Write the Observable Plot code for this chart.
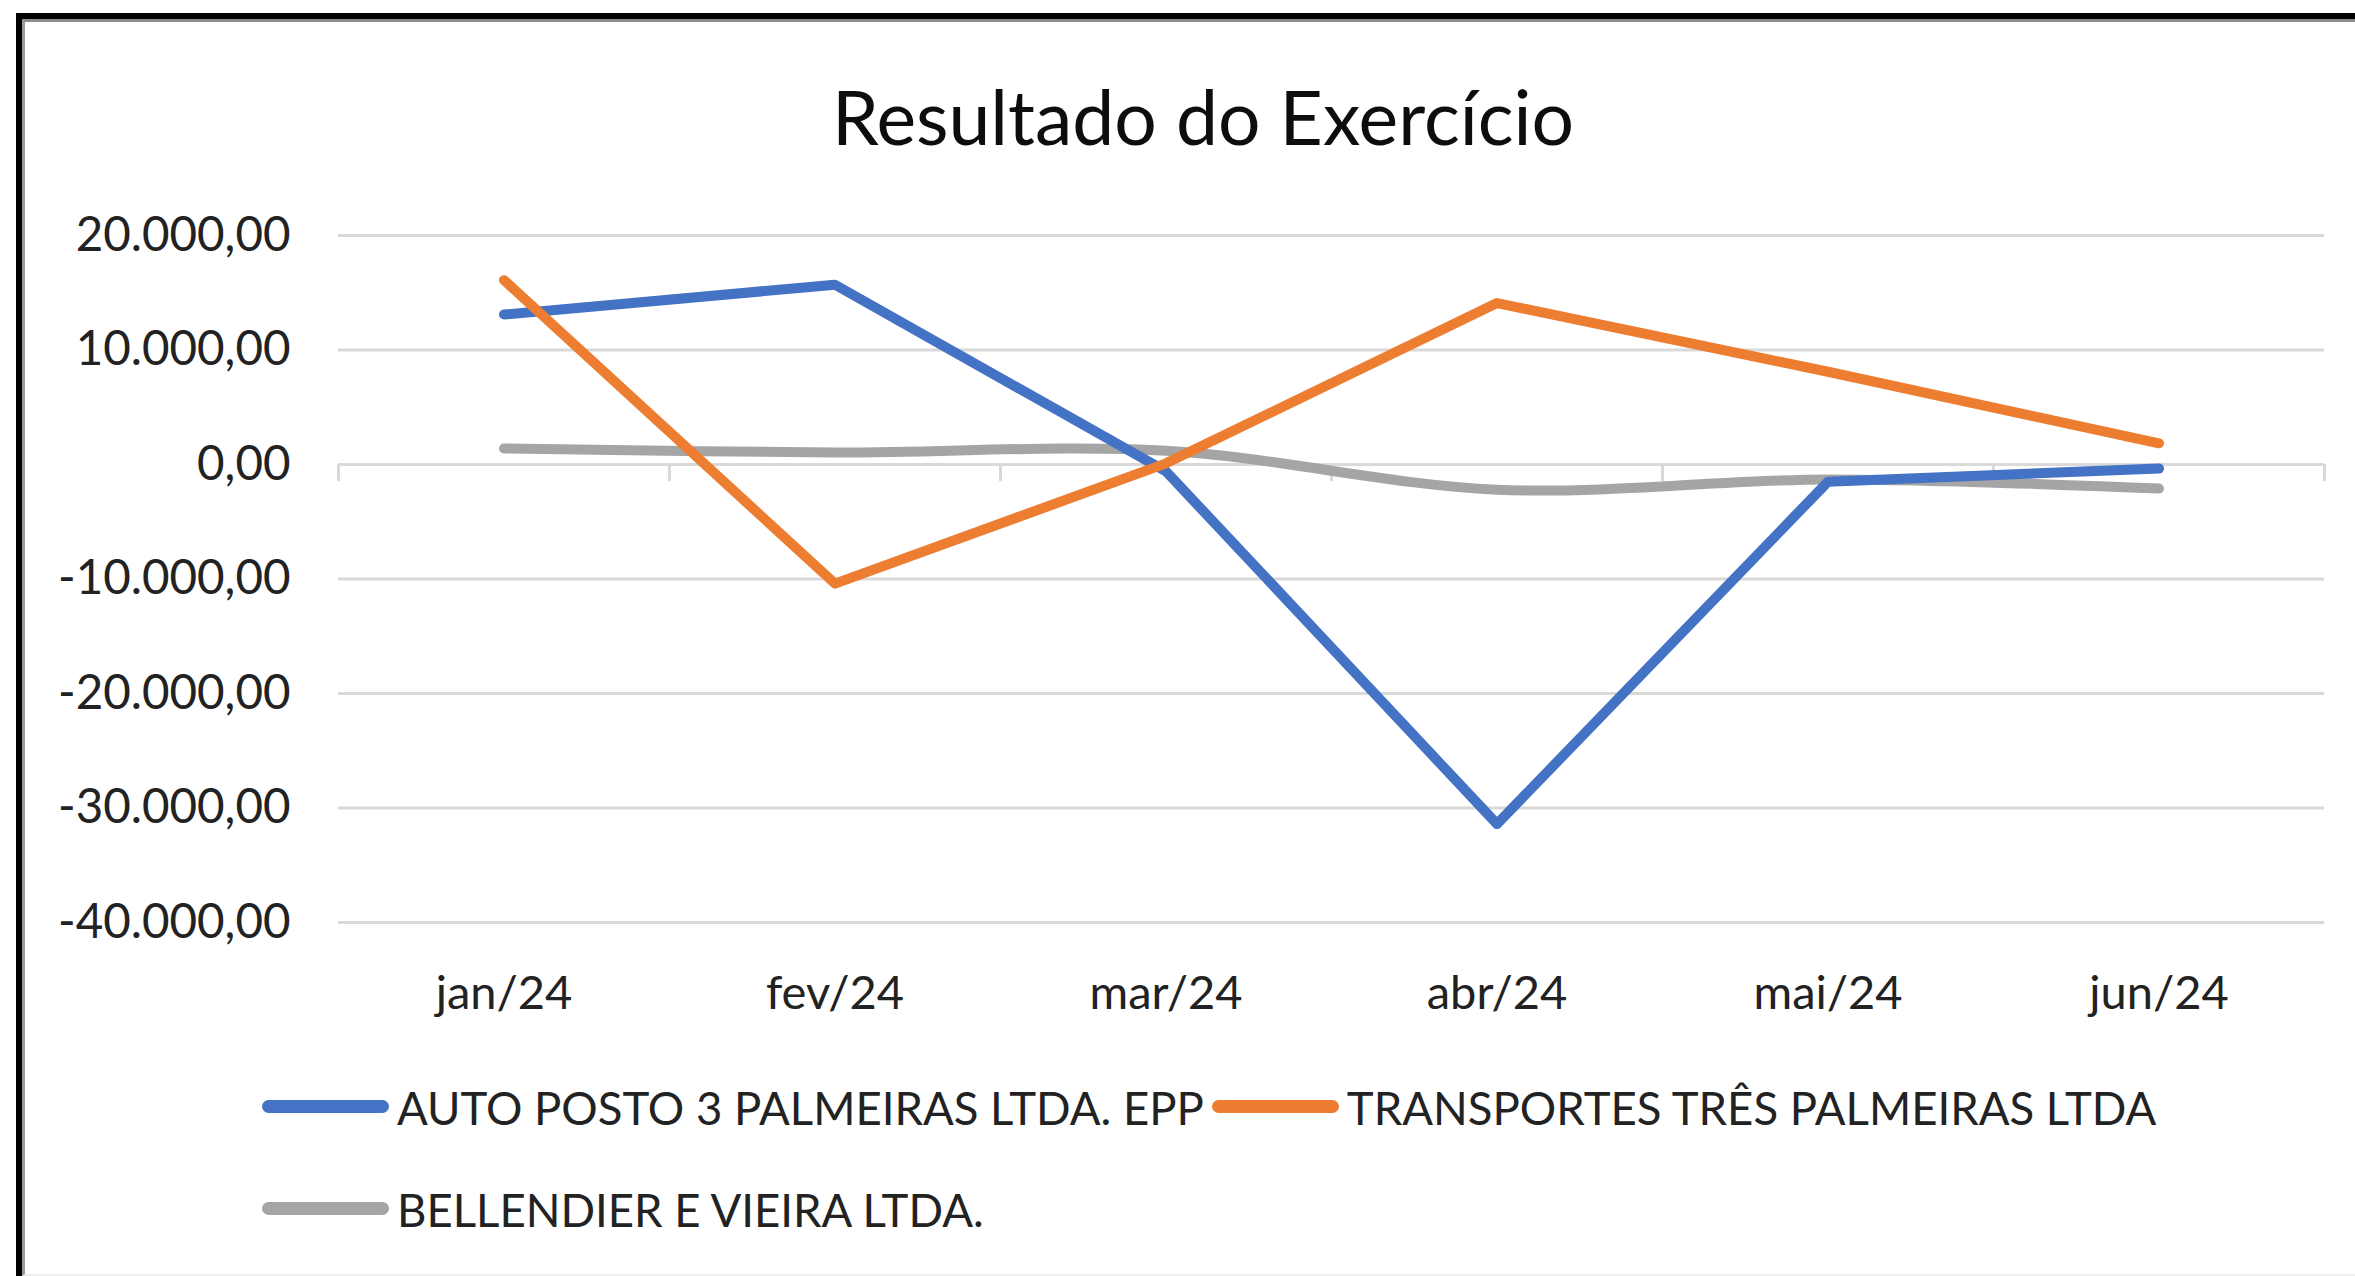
<!DOCTYPE html>
<html>
<head>
<meta charset="utf-8">
<script src="https://cdn.jsdelivr.net/npm/d3@7"></script>
<script src="https://cdn.jsdelivr.net/npm/@observablehq/plot@0.6"></script>
<style>
  html, body { margin: 0; padding: 0; background: #fff; }
  body { width: 2355px; height: 1276px; position: relative; overflow: hidden; font-family: Lato, "Open Sans", sans-serif; }
  #frameOuter { position: absolute; left: 16px; top: 13px; right: 0; bottom: 0; border-top: 6px solid #000; border-left: 6px solid #000; box-sizing: border-box; }
  #frameInner { position: absolute; left: 0; top: 0; right: 0; bottom: 0; border-top: 3px solid #8c8c8c; border-left: 3px solid #999; border-bottom: 2px solid #eeeeee; box-sizing: border-box; }
  #title { position: absolute; left: 1203px; top: 79px; transform: translateX(-50%); font-size: 75px; line-height: 75px; color: #0d0d0d; white-space: nowrap; }
  #chart { position: absolute; left: 0; top: 180px; }
  #legend { position: absolute; left: 262px; top: 1057px; width: 1960px; display: flex; flex-wrap: wrap; column-gap: 8px; }
  .item { display: flex; align-items: center; height: 102px; }
  .sw { width: 127px; height: 13px; border-radius: 7px; margin-right: 8px; margin-top: -4px; }
  .lab { font-size: 45.5px; line-height: 102px; color: #222; white-space: nowrap; }
</style>
</head>
<body>
<div id="frameOuter"><div id="frameInner"></div></div>
<div id="title">Resultado do Exercício</div>
<div id="chart"></div>
<div id="legend"></div>
<script>
const months = ["jan/24", "fev/24", "mar/24", "abr/24", "mai/24", "jun/24"];
const seriesNames = ["AUTO POSTO 3 PALMEIRAS LTDA. EPP", "TRANSPORTES TRÊS PALMEIRAS LTDA", "BELLENDIER E VIEIRA LTDA."];
const autoPosto = [13100, 15700, -600, -31400, -1500, -350];
const transportes = [16100, -10400, 100, 14100, 8100, 1850];
const bellendier = [1400, 1050, 1200, -2200, -1300, -2100];
const yTicks = [20000, 10000, 0, -10000, -20000, -30000, -40000];
const seriesColors = ["#4472C4", "#ED7D31", "#A5A5A5"];

const seriesValues = [autoPosto, transportes, bellendier];
const rows = seriesValues.map((vals, s) => vals.map((v, i) => ({i, v, s})));
const boundaries = d3.range(months.length + 1).map(i => i - 0.5);

const fmt = d3.formatLocale({decimal: ",", thousands: ".", grouping: [3], currency: ["R$ ", ""], minus: "-"}).format(",.2f");

const lineOpts = (s, extra = {}) => ({x: "i", y: "v", stroke: seriesColors[s], strokeWidth: 10, strokeLinecap: "round", strokeLinejoin: "round", ...extra});

const chart = Plot.plot({
  width: 2355,
  height: 880,
  marginLeft: 338,
  marginRight: 31,
  marginTop: 55,
  marginBottom: 138,
  style: {fontFamily: "Lato, 'Open Sans', sans-serif", background: "transparent", color: "#222"},
  x: {domain: [-0.5, months.length - 0.5]},
  y: {domain: [-40000, 20000]},
  marks: [
    Plot.ruleY(yTicks, {stroke: "#d9d9d9", strokeWidth: 3}),
    Plot.ruleX(boundaries, {x: d => d, y1: 0, y2: -1500, stroke: "#d9d9d9", strokeWidth: 3}),
    Plot.axisY({ticks: yTicks, tickFormat: fmt, tickSize: 0, tickPadding: 48, fontSize: 47.5, fill: "#222", label: null}),
    Plot.axisX({ticks: d3.range(months.length), tickFormat: i => months[i], tickSize: 0, tickPadding: 53, fontSize: 47, fill: "#222", label: null}),
    Plot.line(rows[2], lineOpts(2, {curve: "catmull-rom"})),
    Plot.line(rows[0], lineOpts(0)),
    Plot.line(rows[1], lineOpts(1))
  ]
});
document.getElementById("chart").appendChild(chart);

const legend = document.getElementById("legend");
seriesNames.forEach((name, s) => {
  const item = document.createElement("div");
  item.className = "item";
  const sw = document.createElement("div");
  sw.className = "sw";
  sw.style.background = seriesColors[s];
  const lab = document.createElement("span");
  lab.className = "lab";
  lab.textContent = name;
  item.appendChild(sw);
  item.appendChild(lab);
  legend.appendChild(item);
});
</script>
</body>
</html>
